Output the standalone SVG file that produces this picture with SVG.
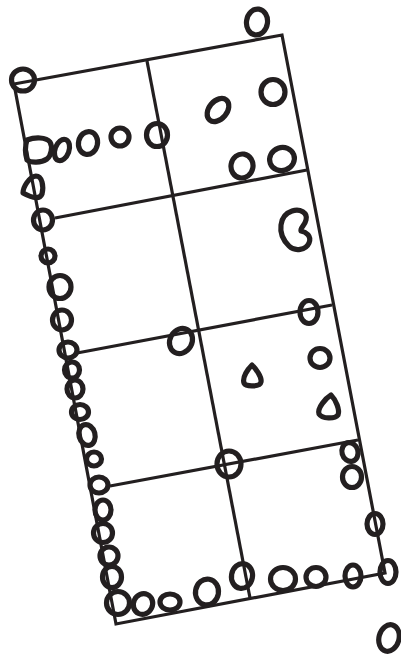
<svg xmlns="http://www.w3.org/2000/svg" width="401" height="656" viewBox="0 0 401 656">
<style>
.g{fill:none;stroke:#231f20;stroke-width:3.2;stroke-linejoin:miter;stroke-linecap:butt}
.c{fill:none;stroke:#231f20;stroke-width:5.2;stroke-linejoin:round}
</style>
<rect width="401" height="656" fill="#fff"/>
<g id="grid" class="g">
<polygon points="14,84 282,35 385,573 116,624"/>
<line x1="147" y1="61" x2="250" y2="598"/>
<line x1="55" y1="218" x2="307" y2="170"/>
<line x1="77" y1="353" x2="332" y2="305"/>
<line x1="110" y1="486" x2="358" y2="440"/>
</g>
<g id="marks" class="c">
<ellipse cx="23" cy="80" rx="11.5" ry="11"/>
<ellipse cx="257" cy="22" rx="10.5" ry="13" transform="rotate(8 257 22)"/>
<ellipse cx="273" cy="92" rx="12" ry="12.5"/>
<ellipse cx="218" cy="110" rx="9" ry="13" transform="rotate(40 218 110)"/>
<ellipse cx="242" cy="166" rx="11" ry="12" transform="rotate(10 242 166)"/>
<ellipse cx="282" cy="159" rx="12.5" ry="11.5" transform="rotate(-20 282 159)"/>
<path d="M27,140 C35,137 46,137 50,142 C53,147 51,156 47,159 C41,163 31,163 27,160 C25,153 25,146 27,140 Z"/>
<ellipse cx="62" cy="150" rx="7" ry="11" transform="rotate(20 62 150)"/>
<ellipse cx="88" cy="143" rx="9.5" ry="11.5" transform="rotate(12 88 143)"/>
<ellipse cx="120" cy="137" rx="9" ry="9"/>
<ellipse cx="157" cy="135" rx="10.5" ry="11.5"/>
<path d="M36,176 C42,176 44,186 42,194 C40,199 34,199 23,193 C23,187 29,177 36,176 Z"/>
<ellipse cx="43" cy="220" rx="9.5" ry="10"/>
<ellipse cx="48" cy="256" rx="7" ry="7"/>
<ellipse cx="60" cy="287" rx="11" ry="11.5"/>
<ellipse cx="62" cy="320" rx="9.5" ry="10"/>
<ellipse cx="68" cy="350" rx="9" ry="8"/>
<ellipse cx="72" cy="370" rx="7.5" ry="8"/>
<ellipse cx="75" cy="389" rx="8" ry="9"/>
<ellipse cx="80" cy="412" rx="8.5" ry="7.5"/>
<ellipse cx="87" cy="435" rx="8" ry="10.5" transform="rotate(-15 87 435)"/>
<ellipse cx="94" cy="459" rx="7.5" ry="7"/>
<ellipse cx="99" cy="485" rx="9" ry="8"/>
<ellipse cx="103" cy="510" rx="8" ry="10"/>
<ellipse cx="103" cy="533" rx="9.5" ry="9.5"/>
<ellipse cx="109" cy="556" rx="9" ry="9"/>
<ellipse cx="112" cy="577" rx="9.5" ry="10.5"/>
<ellipse cx="118" cy="603" rx="11.5" ry="11.5"/>
<ellipse cx="143" cy="604" rx="9.5" ry="10.5" transform="rotate(25 143 604)"/>
<ellipse cx="170" cy="602" rx="10" ry="8"/>
<ellipse cx="207" cy="592" rx="11.5" ry="13" transform="rotate(10 207 592)"/>
<ellipse cx="242" cy="576" rx="10.5" ry="12.5" transform="rotate(10 242 576)"/>
<ellipse cx="283" cy="579" rx="12.5" ry="11.5"/>
<ellipse cx="316" cy="577" rx="10" ry="9.5"/>
<ellipse cx="353" cy="576" rx="8" ry="11"/>
<ellipse cx="388" cy="572" rx="8" ry="11.5"/>
<ellipse cx="389" cy="638" rx="10" ry="13.5" transform="rotate(15 389 638)"/>
<ellipse cx="229" cy="464" rx="12" ry="13"/>
<ellipse cx="350" cy="452" rx="8" ry="9.5" transform="rotate(-15 350 452)"/>
<ellipse cx="352" cy="477" rx="9.5" ry="10.5"/>
<ellipse cx="375" cy="524" rx="8" ry="10.5"/>
<ellipse cx="309" cy="312" rx="9" ry="11.5"/>
<ellipse cx="320" cy="358" rx="10" ry="9.5"/>
<path d="M252,365 C256,369 262,377 261,382 C260,387 246,387 244,383 C242,377 248,369 252,365 Z"/>
<path d="M331,395 C336,400 340,410 338,415 C335,419 322,419 319,414 C317,408 326,398 331,395 Z"/>
<ellipse cx="181" cy="341" rx="11" ry="13" transform="rotate(30 181 341)"/>
<path d="M292,211 C300,208 308,213 306,220 C305,225 300,228 301,231 C306,232 312,236 309,243 C306,250 295,252 289,246 C283,240 280,232 281,225 C282,217 286,213 292,211 Z"/>
</g>
</svg>
